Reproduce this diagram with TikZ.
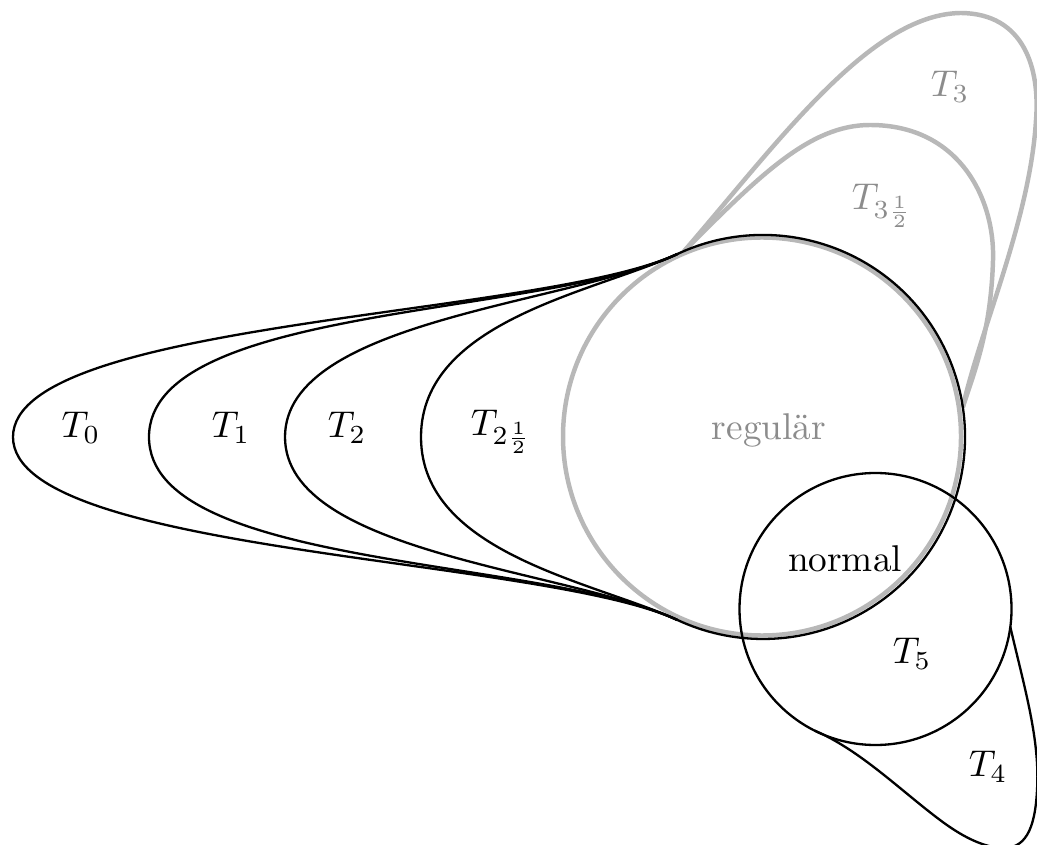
\documentclass[tikz,border=0pt]{standalone}
\tikzset{
  blk/.style={line width=0.62pt, draw=black},
  gry/.style={line width=1.2pt, draw=black!28},
  lbl/.style={inner sep=0pt, font=\fontsize{10}{12}\selectfont},
  glbl/.style={lbl, text=black!45}
}
\begin{document}
\begin{tikzpicture}[x=0.2683pt,y=-0.2683pt]
\useasboundingbox (0,0) rectangle (1037,845);
% key points
\coordinate (G)  at (762,436.5);
\coordinate (up) at (677.6,253.9);
\coordinate (dn) at (677.6,620.1);
\coordinate (g1) at (684.1,251.1);
\coordinate (g2) at (962.8,407.1);
\coordinate (S)  at (875.5,609);
\coordinate (s1) at (1010.3,627);
\coordinate (s2) at (814.6,730.6);

% grey regions T3, T3 1/2
\draw[gry] (g1) .. controls (780,140) and (870,15) .. (960,13)
  .. controls (1025,13) and (1040,70) .. (1036,120)
  .. controls (1030,220) and (980,330) .. (g2);
\draw[gry] (g1) .. controls (760,175) and (810,125) .. (870,125)
  .. controls (960,125) and (995,200) .. (993,260)
  .. controls (991,330) and (975,370) .. (g2);
% grey circle (regular)
\draw[gry] (G) circle[radius=199];

% black arc of the big circle
\draw[blk] (up) arc[start angle=-115, end angle=115, radius=202];
% T0, T1, T2, T2 1/2
\draw[blk] (up) .. controls (541.7,317.3) and (13,320) .. (13,437)
  .. controls (13,554) and (541.7,556.7) .. (dn);
\draw[blk] (up) .. controls (541.7,317.3) and (149,305) .. (149,437)
  .. controls (149,569) and (541.7,556.7) .. (dn);
\draw[blk] (up) .. controls (568.8,304.6) and (285,320) .. (285,437)
  .. controls (285,554) and (568.8,569.4) .. (dn);
\draw[blk] (up) .. controls (596,292) and (421,320) .. (421,437)
  .. controls (421,554) and (596,582) .. (dn);

% normal circle (T5) and T4
\draw[blk] (S) circle[radius=136];
\draw[blk] (s1) .. controls (1025,690) and (1040,740) .. (1037,790)
  .. controls (1035,830) and (1025,850) .. (1000,848)
  .. controls (980,846) and (960,835) .. (940,820)
  .. controls (900,790) and (860,750) .. (s2);

% labels
\node[lbl] (t0) at (81,428) {$T_0$};
\node[lbl] (t1) at (231,428) {$T_1$};
\node[lbl] (t2) at (347,428) {$T_2$};
\node[lbl] (t25) at (501,432) {$T_{2\frac{1}{2}}$};
\node[glbl] (reg) at (769,430) {regulär};
\node[lbl] (nor) at (845,559) {normal};
\node[lbl] (t5) at (912,654) {$T_5$};
\node[lbl] (t4) at (988,767) {$T_4$};
\node[glbl] (t3) at (950,87) {$T_3$};
\node[glbl] (t35) at (882,206) {$T_{3\frac{1}{2}}$};
\end{tikzpicture}
\end{document}
